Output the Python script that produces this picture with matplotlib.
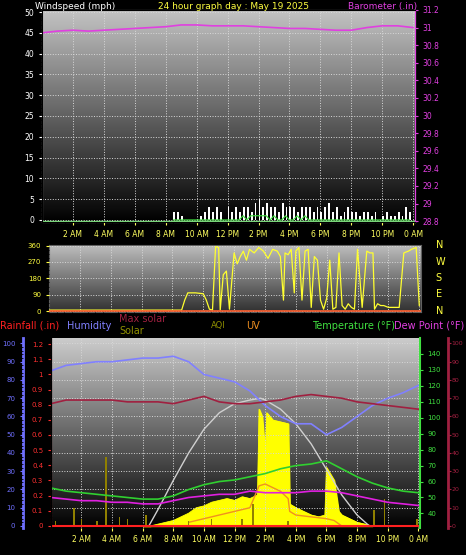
import numpy as np
import matplotlib
matplotlib.use("Agg")
import matplotlib.pyplot as plt

# ---------------- data ----------------
hours = list(range(25))
xtick_labels = ["2 AM","4 AM","6 AM","8 AM","10 AM","12 PM","2 PM","4 PM","6 PM","8 PM","10 PM","0 AM"]
xtick_pos = [2,4,6,8,10,12,14,16,18,20,22,24]

barometer = [30.94,30.96,30.97,30.96,30.97,30.98,30.99,31.0,31.01,31.03,31.03,31.02,31.02,31.02,31.01,31.0,
             30.99,30.99,30.98,30.97,30.97,31.0,31.02,31.02,31.0]

wind_t = [8.5,8.75,9.0,9.25,9.5,9.75,10.0,10.25,10.5,10.75,11.0,11.25,11.5,11.75,12.0,12.25,12.5,12.75,13.0,13.25,
          13.5,13.75,14.0,14.25,14.5,14.75,15.0,15.25,15.5,15.75,16.0,16.25,16.5,16.75,17.0,17.25,17.5,17.75,18.0,
          18.25,18.5,18.75,19.0,19.25,19.5,19.75,20.0,20.25,20.5,20.75,21.0,21.25,21.5,21.75,22.0,22.25,22.5,22.75,
          23.0,23.25,23.5,23.75]
wind_gust = [2,2,1,0,0,0,0,1,2,3,2,3,2,0,3,2,3,2,3,3,2,4,5,3,4,3,3,2,4,3,3,3,2,3,3,3,2,3,2,3,4,2,3,1,2,3,2,2,
             1,2,2,1,2,0,1,2,1,1,2,1,3,2]
wind_avg = [0,0,0,0,0,0,0,0,0,0,0,0,0,0,0,0,0,0,1,0,1,1,1,1,1,0,1,0,0,1,0,0,1,0,1,0,0,0,0,0,0,0,0,0,0,0,0,0,
            0,0,0,0,0,0,0,0,0,0,0,0,0,0]

dir_t = [0,8.6,8.8,9.0,9.5,10.0,10.2,10.4,10.6,10.8,11.0,11.1,11.3,11.5,11.7,12.0,12.2,12.4,12.6,12.8,13.0,13.3,
         13.6,13.9,14.2,14.5,14.8,15.0,15.2,15.3,15.5,15.7,15.9,16.0,16.2,16.4,16.6,16.8,17.0,17.2,17.4,17.6,17.8,
         18.0,18.2,18.4,18.6,18.8,19.0,19.2,19.4,19.6,19.8,20.0,20.3,20.6,20.8,21.0,21.1,21.3,21.5,21.7,22.0,22.3,
         22.5,22.7,23.0,23.3,23.5,23.8,24.0]
direction = [5,5,60,100,100,95,60,10,5,355,350,5,200,220,10,320,260,300,330,280,340,320,350,330,290,340,330,300,
             60,320,310,340,100,330,350,60,330,340,20,300,280,60,10,70,280,10,20,320,30,10,40,20,10,340,20,330,
             320,320,10,40,30,30,20,20,20,20,320,330,340,350,30]

humidity = [85,88,89,90,90,91,92,92,93,90,83,81,79,74,66,60,56,56,50,54,60,66,70,73,77]
temperature = [56,54,53,52,51,50,49,49,51,55,58,60,61,63,65,68,70,71,73,68,63,59,56,54,53]
dewpoint = [50,49,48,48,47,47,46,46,48,50,51,52,52,54,53,53,53,54,54,53,51,49,47,46,45]
indoor = [67,69,69,69,69,68,68,68,67,69,71,68,67,67,68,69,71,72,71,70,68,67,66,65,64]

maxsolar_t = [6.4,7,8,9,10,11,12,13,13.7,14,15,16,17,18,19,20,20.8]
maxsolar = [0,9,25,40,53,62,67,69,70,69,64,56,45,31,17,6,0]

solar_t = [6,6.5,7,7.5,8,8.5,9,9.5,10,10.5,11,11.5,12,12.5,13,13.5,13.6,13.8,14.0,14.1,14.5,15,15.5,15.6,16,
           16.5,17,17.5,17.9,18.0,18.5,18.8,19,19.5,20,20.5,21]
solar = [0,0,1,2,3,5,7,10,11,13,14,15,14,16,15,17,64,60,40,62,58,57,56,12,10,8,6,5,6,32,25,8,6,4,2,1,0]

uv_t = [9,10,11,12,13,13.6,14,14.5,15,15.5,15.6,16,17,18,18.5,19]
uv = [2,4,6,8,10,22,23,21,19,15,8,6,5,4,3,0]

aqi_t = [0.3,1.5,2.0,3.0,3.6,4.5,5.0,6.2,9.0,10.5,12.5,13.2,15.5,21.1,21.8,23.9]
aqi = [3,10,4,3,38,5,4,6,3,4,4,12,3,9,15,4]

rain_t = [0,24]
rain = [0,0]

# ---------------- figure ----------------
fig = plt.figure(figsize=(4.66, 5.55), dpi=100, facecolor="black")
fs = 5.5

def gradient(ax, top, bottom):
    g = np.linspace(0, 1, 256).reshape(-1, 1)
    cmap = matplotlib.colors.LinearSegmentedColormap.from_list("g", [bottom, top])
    ax.imshow(g, aspect="auto", cmap=cmap, origin="lower", extent=[0, 1, 0, 1],
              transform=ax.transAxes, zorder=0)

def style_x(ax, labels=True):
    ax.set_xlim(0, 24.1)
    ax.set_xticks(xtick_pos)
    ax.set_xticks(np.arange(0, 24.1, 0.5), minor=True)
    if labels:
        ax.set_xticklabels(xtick_labels, color="#ffff60", fontsize=fs)
    else:
        ax.set_xticklabels([])
    ax.tick_params(axis="x", colors="#ffff60", length=2, labelcolor="#ffff60")
    ax.grid(True, color="#d8d8d8", linestyle=":", linewidth=0.7)
    ax.set_axisbelow(False)

# ---- Panel 1 ----
ax1 = fig.add_axes([0.090, 0.600, 0.800, 0.382])
ax1.set_facecolor("black")
gradient(ax1, "#c4c4c4", "#000000")
style_x(ax1)
ax1.set_ylim(-0.5, 50.5)
ax1.set_yticks(range(0, 51, 5))
ax1.set_yticks(np.arange(0, 51, 1), minor=True)
ax1.tick_params(axis="y", colors="white", labelsize=fs, length=2)
ax1.bar(wind_t, wind_gust, width=0.12, color="white", align="edge", zorder=3)
ax1.plot(wind_t, wind_avg, color="#40e040", lw=0.8, zorder=4)
ax1.axhline(-0.3, color="#80e080", lw=1, zorder=4)
for s in ax1.spines.values():
    s.set_color("white")
ax1b = ax1.twinx()
ax1b.set_ylim(28.79, 31.2)
ax1b.set_yticks(np.arange(28.8, 31.21, 0.2))
ax1b.set_yticklabels([f"{v:g}" for v in np.round(np.arange(28.8, 31.21, 0.2), 1)])
ax1b.tick_params(axis="y", colors="#e040e0", labelsize=fs, length=2)
ax1b.spines["right"].set_color("#e040e0")
ax1b.plot(hours, barometer, color="#e040e0", lw=1.2)
fig.text(0.075, 0.997, "Windspeed (mph)", color="white", fontsize=6.5, va="top")
fig.text(0.50, 0.997, "24 hour graph day : May 19 2025", color="#ffff40", fontsize=6.5, va="top", ha="center")
fig.text(0.895, 0.997, "Barometer (.in)", color="#e040e0", fontsize=6.5, va="top", ha="right")

# ---- Panel 2 ----
ax2 = fig.add_axes([0.105, 0.438, 0.798, 0.121])
ax2.set_facecolor("black")
gradient(ax2, "#c0c0c0", "#303030")
style_x(ax2, labels=False)
ax2.tick_params(axis="x", length=0)
ax2.set_ylim(-5, 365)
ax2.set_yticks([0, 90, 180, 270, 360])
ax2.set_yticks(np.arange(0, 361, 22.5), minor=True)
ax2.tick_params(axis="y", colors="#ffff40", labelsize=fs - 0.5, length=2)
ax2.plot(dir_t, direction, color="#ffff30", lw=0.9, zorder=3)
ax2.axhline(0, color="#ff6030", lw=1.2, zorder=3)
for s in ax2.spines.values():
    s.set_color("#606060")
for lab, yy in zip(["N", "W", "S", "E", "N"], [0.558, 0.528, 0.499, 0.470, 0.440]):
    fig.text(0.935, yy, lab, color="#ffff40", fontsize=7, va="center")

# ---- Panel 3 ----
ax3 = fig.add_axes([0.109, 0.049, 0.792, 0.342])
ax3.set_facecolor("black")
gradient(ax3, "#cccccc", "#000000")
style_x(ax3)
ax3.set_ylim(-1, 103)
ax3.set_yticks(range(0, 101, 10))
ax3.set_yticks(np.arange(0, 101, 2), minor=True)
ax3.spines["left"].set_position(("outward", 20))
ax3.spines["left"].set_color("#7070ff")
ax3.spines["left"].set_linewidth(2)
ax3.tick_params(axis="y", colors="#7070ff", labelsize=fs - 0.5, length=2)
ax3.spines["right"].set_visible(False)
ax3.spines["top"].set_visible(False)
ax3.fill_between(solar_t, solar, color="#ffff00", zorder=2)
ax3.plot(solar_t, solar, color="#ffff00", lw=0.6, zorder=2)
ax3.plot(uv_t, uv, color="#f09020", lw=1, zorder=3)
ax3.bar(aqi_t, aqi, width=0.1, color="#908000", zorder=3)
ax3.plot(maxsolar_t, maxsolar, color="#d0d0d0", lw=1, zorder=3)
ax3.plot(hours, humidity, color="#8080ff", lw=1.2, zorder=4)
ax3.plot(hours, indoor, color="#a02040", lw=1.2, zorder=4)

axr = ax3.twinx()
axr.set_ylim(-0.0125, 1.24)
axr.yaxis.set_ticks_position("left")
axr.spines["left"].set_visible(True)
axr.spines["left"].set_color("#ff3030")
axr.spines["left"].set_linestyle(":")
axr.spines["right"].set_visible(False)
axr.set_yticks(np.round(np.arange(0, 1.21, 0.1), 1))
axr.set_yticklabels([f"{v:g}" for v in np.round(np.arange(0, 1.21, 0.1), 1)])
axr.tick_params(axis="y", colors="#ff3030", labelsize=fs - 0.5, length=2)
axr.plot(rain_t, rain, color="#ff2020", lw=1.5, zorder=5)

axt = ax3.twinx()
axt.set_ylim(31, 150)
axt.set_yticks(range(40, 141, 10))
axt.spines["right"].set_color("#40e040")
axt.spines["right"].set_linewidth(1.5)
axt.tick_params(axis="y", colors="#40e040", labelsize=fs - 0.5, length=2)
axt.plot(hours, temperature, color="#30d030", lw=1.2, zorder=5)
axt.plot(hours, dewpoint, color="#e020e0", lw=1.2, zorder=5)

axd = ax3.twinx()
axd.set_ylim(-1, 103)
axd.spines["right"].set_position(("outward", 20))
axd.spines["right"].set_color("#a02040")
axd.spines["right"].set_linewidth(2)
axd.set_yticks(range(0, 101, 10))
axd.tick_params(axis="y", colors="#a02040", labelsize=fs - 1, length=2, pad=1)
for a in (axr, axt, axd):
    a.spines["top"].set_visible(False)
    a.spines["bottom"].set_visible(False)

ty = 0.413
fig.text(0.0, ty, "Rainfall (.in)", color="#ff2020", fontsize=7, va="center")
fig.text(0.143, ty, "Humidity", color="#8080ff", fontsize=7, va="center")
fig.text(0.256, ty + 0.012, "Max solar", color="#a02040", fontsize=7, va="center")
fig.text(0.256, ty - 0.010, "Solar", color="#909000", fontsize=7, va="center")
fig.text(0.452, ty, "AQI", color="#909000", fontsize=6, va="center")
fig.text(0.528, ty, "UV", color="#f09020", fontsize=7, va="center")
fig.text(0.670, ty, "Temperature (°F)", color="#40e040", fontsize=7, va="center")
fig.text(0.845, ty, "Dew Point (°F)", color="#e040e0", fontsize=7, va="center")

fig.savefig("out.png", dpi=100, facecolor="black")
